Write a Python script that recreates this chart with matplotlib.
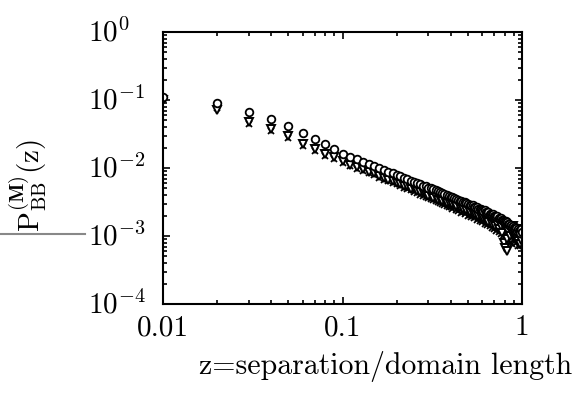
"""
Log-log plot of the BB pair correlation against scaled separation.
"""
import numpy as np
import matplotlib
matplotlib.use('Agg')
import matplotlib.pyplot as plt
from matplotlib.ticker import NullFormatter, LogLocator
from matplotlib.lines import Line2D

plt.rcParams['font.family'] = ['cmr10', 'DejaVu Serif']
plt.rcParams['mathtext.fontset'] = 'cm'
plt.rcParams['axes.formatter.use_mathtext'] = True

# separation z = 0.01 ... 1.00
z = np.arange(1, 101) / 100

# log10 of P_BB
circles = [-0.95, -1.04, -1.18, -1.28, -1.38, -1.49, -1.58, -1.65, -1.72, -1.80,
           -1.84, -1.87, -1.91, -1.94, -1.97, -2.00, -2.03, -2.06, -2.08, -2.11,
           -2.12, -2.14, -2.16, -2.19, -2.20, -2.22, -2.23, -2.26, -2.27, -2.29,
           -2.30, -2.31, -2.33, -2.34, -2.36, -2.37, -2.38, -2.40, -2.41, -2.42,
           -2.43, -2.44, -2.45, -2.47, -2.48, -2.49, -2.50, -2.50, -2.52, -2.53,
           -2.54, -2.55, -2.55, -2.57, -2.58, -2.57, -2.60, -2.60, -2.61, -2.62,
           -2.63, -2.62, -2.65, -2.66, -2.65, -2.67, -2.68, -2.69, -2.68, -2.70,
           -2.71, -2.72, -2.71, -2.74, -2.75, -2.73, -2.77, -2.76, -2.78, -2.79,
           -2.78, -2.81, -2.80, -2.83, -2.82, -2.85, -2.84, -2.87, -2.86, -2.88,
           -2.87, -2.90, -2.88, -2.92, -2.89, -2.93, -2.91, -2.95, -2.90, -2.94]

triangles = [-1.00, -1.15, -1.33, -1.43, -1.53, -1.65, -1.72, -1.79, -1.84, -1.90,
             -1.95, -1.99, -2.02, -2.06, -2.08, -2.12, -2.14, -2.17, -2.19, -2.22,
             -2.24, -2.26, -2.27, -2.31, -2.30, -2.34, -2.36, -2.35, -2.39, -2.41,
             -2.40, -2.44, -2.42, -2.47, -2.45, -2.49, -2.46, -2.52, -2.50, -2.48,
             -2.53, -2.51, -2.56, -2.52, -2.58, -2.55, -2.60, -2.57, -2.62, -2.59,
             -2.64, -2.58, -2.66, -2.62, -2.68, -2.63, -2.70, -2.65, -2.72, -2.67,
             -2.74, -2.69, -2.76, -2.70, -2.79, -2.72, -2.77, -2.82, -2.74, -2.80,
             -2.85, -2.76, -2.83, -2.90, -2.79, -2.86, -2.95, -2.82, -3.10, -3.18,
             -2.88, -3.05, -3.22, -2.93, -2.86, -3.00, -2.90, -2.96, -2.85, -3.02,
             -2.92, -2.98, -3.05, -2.90, -3.08, -2.95, -3.12, -2.93, -3.06, -2.99]

crosses = [-0.98, -1.12, -1.36, -1.46, -1.56, -1.67, -1.75, -1.82, -1.87, -1.93,
           -1.97, -2.02, -2.05, -2.08, -2.11, -2.14, -2.17, -2.19, -2.22, -2.24,
           -2.26, -2.29, -2.31, -2.33, -2.35, -2.37, -2.39, -2.41, -2.43, -2.44,
           -2.46, -2.47, -2.49, -2.50, -2.52, -2.53, -2.55, -2.56, -2.57, -2.58,
           -2.60, -2.58, -2.62, -2.63, -2.61, -2.66, -2.64, -2.68, -2.65, -2.70,
           -2.69, -2.72, -2.68, -2.74, -2.71, -2.76, -2.73, -2.78, -2.75, -2.80,
           -2.77, -2.82, -2.79, -2.84, -2.80, -2.86, -2.83, -2.88, -2.84, -2.90,
           -2.86, -2.92, -2.88, -2.94, -2.89, -2.97, -2.91, -3.00, -2.93, -3.02,
           -2.95, -3.04, -2.97, -3.08, -2.98, -3.10, -3.00, -3.12, -3.02, -3.06,
           -3.03, -3.00, -3.10, -3.04, -3.14, -3.05, -3.08, -3.15, -3.02, -3.10]

x_ticks = [0.01, 0.1, 1]
x_labels = ['0.01', '0.1', '1']
y_ticks = [1e-4, 1e-3, 1e-2, 1e-1, 1e0]
y_labels = [r'$10^{-4}$', r'$10^{-3}$', r'$10^{-2}$', r'$10^{-1}$', r'$10^{0}$']

fig = plt.figure(figsize=(5.73, 3.96), dpi=100)
ax = fig.add_axes([163 / 573, 1 - 304 / 396, (522 - 163) / 573, (304 - 32) / 396])

ax.plot(z, 10 ** np.array(crosses), 'x', color='black', ms=4.5, mew=1.3)
ax.plot(z, 10 ** np.array(triangles), 'v', mfc='white', mec='black', ms=5.5, mew=1.4)
ax.plot(z, 10 ** np.array(circles), 'o', mfc='white', mec='black', ms=5.5, mew=1.3)

ax.set_xscale('log')
ax.set_yscale('log')
ax.set_xlim(0.01, 1)
ax.set_ylim(1e-4, 1)

ax.set_xticks(x_ticks, x_labels)
ax.set_yticks(y_ticks)
ax.xaxis.set_minor_locator(LogLocator(base=10, subs=np.arange(2, 10)))
ax.yaxis.set_minor_locator(LogLocator(base=10, subs=np.arange(2, 10)))
ax.xaxis.set_minor_formatter(NullFormatter())
ax.yaxis.set_minor_formatter(NullFormatter())
ax.yaxis.set_major_formatter(NullFormatter())

ax.tick_params(which='both', direction='in', top=True, right=True, width=1.2)
ax.tick_params(which='major', length=5)
ax.tick_params(which='minor', length=3)
ax.tick_params(axis='x', labelsize=21, pad=8)

# y labels are left aligned in the original, "10" centred on the tick
for v, lab in zip(y_ticks, y_labels):
    ax.annotate(lab, xy=(0, v), xycoords=('axes fraction', 'data'),
                xytext=(-75, -10), textcoords='offset pixels',
                ha='left', va='baseline', fontsize=21)

for s in ax.spines.values():
    s.set_linewidth(1.5)

fig.text(386 / 573, 1 - 366 / 396, 'z=separation/domain length',
         fontsize=21.5, ha='center', va='center')
fig.text(28 / 573, 1 - 186 / 396, r'$\mathrm{P}^{(\mathbf{M})}_{\mathrm{BB}}(\mathrm{z})$',
         fontsize=21, rotation=90, ha='center', va='center')

# scanner streak left of the 10^-3 label
fig.add_artist(Line2D([0, 85 / 573], [1 - 234 / 396, 1 - 234 / 396],
                      transform=fig.transFigure, color='#888888', lw=1.5))

fig.savefig('out.png', dpi=100)
